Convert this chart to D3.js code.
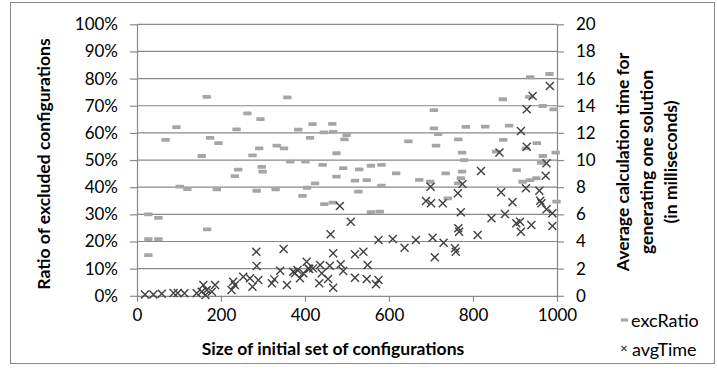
<!DOCTYPE html>
<html>
<head>
<meta charset="utf-8">
<script src="https://cdn.jsdelivr.net/npm/d3@7"></script>
<style>
  html, body { margin: 0; padding: 0; background: #fff; }
  svg { display: block; }
  text { font-family: Lato, "Open Sans", sans-serif; fill: #000; }
</style>
</head>
<body>
<svg id="chart" width="717" height="374"></svg>
<script>
// ---- data ----
const ratioSize = [27,27,27,51,51,68,94,102,120,154,166,167,174,190,194,233,237,241,263,275,285,291,294,297,299,330,333,350,358,365,384,394,401,405,412,418,424,442,445,446,465,466,467,475,475,491,494,499,519,527,529,547,557,557,578,582,582,617,646,672,698,707,707,712,717,735,740,765,765,771,774,774,779,783,829,855,871,872,886,904,918,926,934,936,936,951,952,962,966,966,982,992,997,999];
const ratioValue = [30.0,20.9,15.0,28.7,20.9,57.4,62.1,40.2,39.3,51.5,73.3,24.5,58.2,39.2,56.2,44.1,61.3,46.5,67.2,51.7,38.7,54.3,65.1,47.5,45.7,39.2,55.3,54.3,73.1,49.4,61.2,36.8,49.4,39.8,58.2,63.2,41.4,48.2,60.2,33.8,63.3,34.3,60.4,52.5,43.9,47.0,57.6,59.2,42.4,38.4,46.6,42.6,47.9,30.8,31.0,48.2,40.6,45.1,56.9,42.7,42.0,68.4,61.7,55.3,59.6,45.1,35.9,41.4,57.6,43.3,45.7,52.7,50.0,62.2,62.3,53.1,72.4,57.4,62.7,46.3,42.0,54.3,73.3,80.5,42.6,43.3,56.2,49.0,69.9,51.5,81.7,68.7,52.7,34.7];

const timeSize = [19,39,59,87,97,113,142,154,158,163,166,178,186,225,229,233,253,269,275,284,285,289,321,327,341,349,357,372,376,382,388,396,404,408,410,419,434,436,440,455,459,461,467,467,483,485,491,509,519,519,539,547,549,569,575,575,609,637,664,688,699,700,704,709,728,730,757,759,764,765,767,771,775,811,819,844,863,867,876,894,903,912,914,914,926,928,928,939,942,958,960,963,973,975,975,983,989,989];
const timeValue = [0.1,0.1,0.15,0.2,0.2,0.18,0.18,0.3,0.8,0.06,0.43,0.3,0.8,0.43,1.04,0.8,1.41,1.29,0.67,3.25,2.19,1.16,0.92,1.21,1.85,3.45,0.8,1.78,1.66,1.9,1.29,1.66,2.51,2.02,1.97,2.02,0.92,2.27,1.66,1.24,2.22,4.53,3.13,0.6,6.61,2.32,1.83,5.46,3.06,1.33,3.25,1.24,2.27,0.85,1.16,4.11,4.18,3.54,4.11,6.98,8.04,6.81,4.28,2.84,6.81,3.91,3.5,3.25,7.55,4.97,4.72,6.15,8.24,4.48,9.2,5.71,10.55,7.62,6.03,6.9,5.34,5.46,4.72,12.14,7.92,13.74,10.98,5.22,14.72,7.74,7.0,6.81,8.85,9.76,6.37,15.46,6.08,5.14];

const xTicks = [0,200,400,600,800,1000];
const leftTicks = [0,10,20,30,40,50,60,70,80,90,100];
const rightTicks = [0,2,4,6,8,10,12,14,16,18,20];
const seriesNames = ["excRatio", "avgTime"];
const xTitle = "Size of initial set of configurations";
const yLeftTitle = "Ratio of excluded configurations";
const yRightTitle = ["Average calculation time for", "generating one solution", "(in milliseconds)"];

// ---- layout ----
const svg = d3.select("#chart");
const plot = {left: 137, right: 557, top: 24.3, bottom: 295.8};
const grey = "#898989";

const x = d3.scaleLinear().domain([0, 1000]).range([plot.left, plot.right]);
const yL = d3.scaleLinear().domain([0, 100]).range([plot.bottom, plot.top]);
const yR = d3.scaleLinear().domain([0, 20]).range([plot.bottom, plot.top]);

svg.append("rect").attr("x", 0).attr("y", 0).attr("width", 717).attr("height", 374).attr("fill", "#fff");
svg.append("rect").attr("x", 10.5).attr("y", 2.5).attr("width", 704).attr("height", 361)
  .attr("fill", "none").attr("stroke", grey).attr("stroke-width", 1);

// gridlines
svg.append("g").selectAll("line").data(leftTicks.slice(1)).join("line")
  .attr("x1", plot.left).attr("x2", plot.right)
  .attr("y1", d => yL(d)).attr("y2", d => yL(d))
  .attr("stroke", grey).attr("stroke-width", 1.2);

function styleAxis(g) {
  g.select(".domain").attr("stroke", grey).attr("stroke-width", 1.2);
  g.selectAll(".tick line").attr("stroke", grey).attr("stroke-width", 1.2);
  g.selectAll(".tick text").attr("fill", "#000").style("font-size", "17px").style("font-family", "Lato, sans-serif");
}

svg.append("g").attr("transform", `translate(${plot.left},0)`)
  .call(d3.axisLeft(yL).tickValues(leftTicks).tickFormat(d => d + "%").tickSize(7).tickSizeOuter(0).tickPadding(12))
  .call(styleAxis);

svg.append("g").attr("transform", `translate(${plot.right},0)`)
  .call(d3.axisRight(yR).tickValues(rightTicks).tickFormat(d3.format("d")).tickSize(7).tickSizeOuter(0).tickPadding(12))
  .call(styleAxis);

svg.append("g").attr("transform", `translate(0,${plot.bottom})`)
  .call(d3.axisBottom(x).tickValues(xTicks).tickFormat(d3.format("d")).tickSize(6).tickSizeOuter(0).tickPadding(7))
  .call(styleAxis);

// series: excRatio dashes
const ratioData = ratioSize.map((s, i) => ({s, v: ratioValue[i]}));
svg.append("g").selectAll("rect").data(ratioData).join("rect")
  .attr("x", d => x(d.s) - 4.2).attr("y", d => yL(d.v) - 1.9)
  .attr("width", 8.4).attr("height", 3.8).attr("rx", 0.6)
  .attr("fill", "#a6a6a6");

// series: avgTime crosses
const timeData = timeSize.map((s, i) => ({s, v: timeValue[i]}));
const r = 4;
svg.append("g").selectAll("path").data(timeData).join("path")
  .attr("d", d => {
    const cx = x(d.s), cy = yR(d.v);
    return `M${cx - r},${cy - r}L${cx + r},${cy + r}M${cx - r},${cy + r}L${cx + r},${cy - r}`;
  })
  .attr("stroke", "#404040").attr("stroke-width", 1.4).attr("fill", "none");

// axis titles
svg.append("text").attr("x", 333).attr("y", 348)
  .attr("text-anchor", "middle").attr("dominant-baseline", "central")
  .style("font-weight", "bold").style("font-size", "17.5px").text(xTitle);

svg.append("text").attr("transform", "translate(43,164) rotate(-90)")
  .attr("text-anchor", "middle").attr("dominant-baseline", "central")
  .style("font-weight", "bold").style("font-size", "17.5px").text(yLeftTitle);

yRightTitle.forEach((t, i) => {
  svg.append("text").attr("transform", `translate(${622 + i * 24},162) rotate(-90)`)
    .attr("text-anchor", "middle").attr("dominant-baseline", "central")
    .style("font-weight", "bold").style("font-size", "17.5px").text(t);
});

// legend
const lg = svg.append("g");
lg.append("rect").attr("x", 621).attr("y", 318.4).attr("width", 7).attr("height", 3.2).attr("fill", "#a6a6a6");
lg.append("text").attr("x", 631).attr("y", 320).attr("dominant-baseline", "central").style("font-size", "18px").text(seriesNames[0]);
lg.append("path").attr("d", "M621.5,346L626.5,351M621.5,351L626.5,346").attr("stroke", "#404040").attr("stroke-width", 1.1);
lg.append("text").attr("x", 632).attr("y", 348.5).attr("dominant-baseline", "central").style("font-size", "18px").text(seriesNames[1]);
</script>
</body>
</html>
